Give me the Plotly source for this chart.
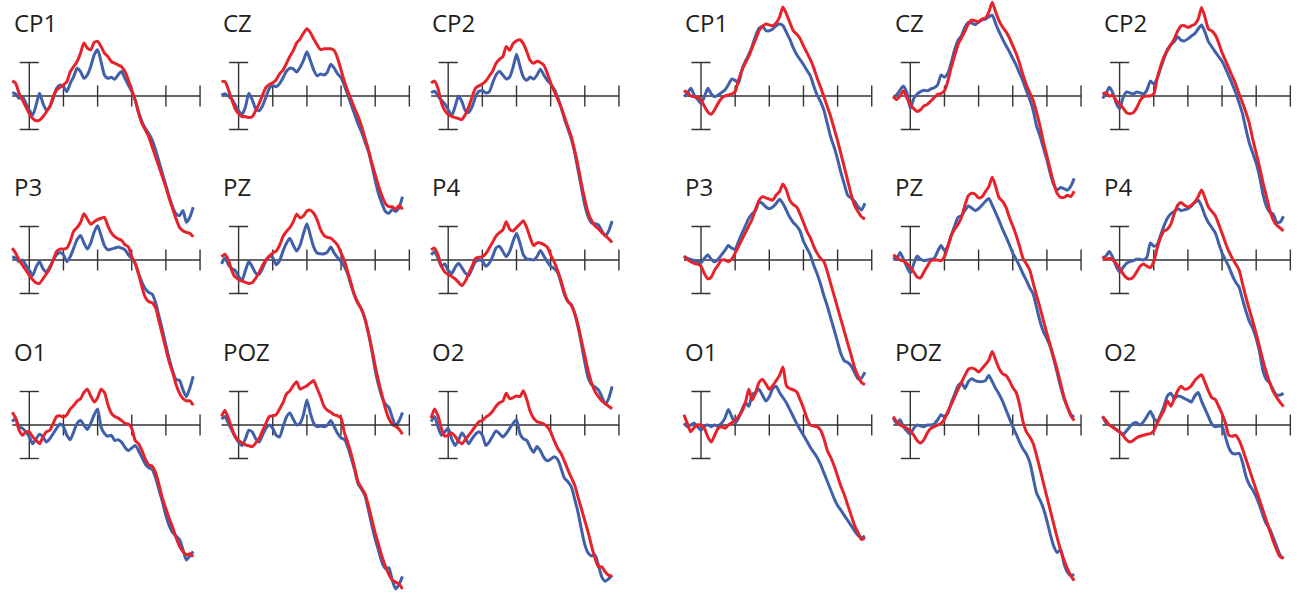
import plotly.graph_objects as go

# ---------------- data (time in ms, amplitude in microvolts) ----------------
T = [-50, -40, -30, -20, -10, 0, 10, 20, 30, 40,
     50, 60, 70, 80, 90, 100, 110, 120, 130, 140,
     150, 160, 170, 180, 190, 200, 210, 220, 230, 240,
     250, 260, 270, 280, 290, 300, 310, 320, 330, 340,
     350, 360, 370, 380, 390, 400, 410, 420, 430, 440,
     450, 460, 470, 480]

LABELS = ["CP1", "CZ", "CP2", "P3", "PZ", "P4", "O1", "POZ", "O2"]

# ----- left group -----
CP1_L_RED = [0.9, 0.76, 0.16, -0.24, -0.64, -1.04, -1.34, -1.48, -1.44, -1.24,
             -0.94, -0.64, -0.04, 0.36, 0.52, 0.66, 0.86, 1.46, 1.76, 2.06,
             2.56, 3.16, 2.86, 2.76, 3.2, 3.26, 2.96, 2.56, 2.36, 2.06,
             1.96, 1.86, 1.76, 1.46, 0.96, 0.36, -0.24, -1.04, -1.64, -2.04,
             -2.44, -3.04, -3.64, -4.24, -4.84, -5.44, -6.14, -6.74, -7.34, -7.84,
             -8.04, -8.14, -8.2, -8.4]
CP1_L_BLUE = [0.2, 0.12, -0.14, -0.04, -0.44, -0.84, -1.14, -0.54, 0.16, -0.44,
              -0.84, -0.64, -0.14, 0.46, 0.66, 0.56, 0.26, 0.76, 1.16, 1.66,
              1.46, 1.06, 1.26, 1.76, 2.46, 2.76, 2.06, 1.26, 1.06, 1.12,
              1.0, 1.26, 1.46, 1.06, 0.66, 0.26, -0.24, -0.94, -1.54, -1.94,
              -2.24, -2.64, -3.24, -3.94, -4.64, -5.34, -6.04, -6.64, -7.04, -7.14,
              -6.84, -7.54, -7.24, -6.64]
CZ_L_RED = [0.86, 0.86, 0.39, -0.23, -0.76, -1.06, -1.23, -1.23, -1.29, -1.23,
            -0.88, -0.46, 0.05, 0.51, 0.69, 0.79, 0.97, 1.32, 1.55, 1.94,
            2.36, 2.71, 3.17, 3.4, 3.75, 4.02, 3.79, 3.4, 3.05, 2.77,
            2.82, 2.82, 2.82, 2.71, 2.24, 1.55, 0.86, 0.28, -0.23, -0.76,
            -1.23, -1.8, -2.5, -3.19, -4.0, -4.69, -5.39, -5.97, -6.43, -6.61,
            -6.61, -6.77, -6.54, -6.77]
CZ_L_BLUE = [0.05, 0.14, 0.0, -0.18, -0.53, -0.88, -1.11, -0.65, 0.16, -0.23,
             -0.76, -0.88, -0.6, -0.07, 0.46, 0.62, 0.55, 0.74, 1.09, 1.48,
             1.66, 1.62, 1.43, 1.71, 2.13, 2.64, 2.13, 1.55, 1.2, 1.32,
             1.25, 1.43, 1.9, 1.66, 1.32, 1.09, 0.62, 0.05, -0.53, -1.11,
             -1.69, -2.15, -2.73, -3.31, -4.12, -5.04, -5.85, -6.43, -6.89, -7.0,
             -6.77, -6.89, -6.66, -6.01]
CP2_L_RED = [0.78, 0.89, 0.47, -0.4, -0.87, -1.11, -1.22, -1.29, -1.34, -1.41,
             -1.11, -0.64, -0.05, 0.47, 0.61, 0.71, 0.89, 1.18, 1.48, 1.95,
             2.19, 2.35, 2.96, 2.73, 3.13, 3.29, 3.36, 3.13, 2.66, 2.12,
             1.95, 2.07, 2.0, 1.84, 1.36, 0.78, 0.31, -0.16, -0.64, -1.22,
             -1.81, -2.4, -3.22, -4.16, -5.22, -6.16, -6.98, -7.45, -7.76, -7.93,
             -8.16, -8.33, -8.52, -8.75]
CP2_L_BLUE = [0.19, 0.28, 0.0, -0.24, -0.47, -0.8, -1.18, -0.64, 0.0, -0.33,
              -0.87, -0.99, -0.64, -0.05, 0.28, 0.31, 0.19, 0.24, 0.78, 1.25,
              1.48, 1.25, 1.01, 1.13, 1.72, 2.49, 1.79, 1.13, 0.94, 1.13,
              1.01, 1.25, 1.6, 1.25, 0.94, 0.71, 0.42, -0.05, -0.64, -1.34,
              -1.93, -2.52, -3.34, -4.4, -5.46, -6.52, -7.22, -7.58, -7.62, -7.69,
              -8.05, -8.35, -8.05, -7.46]
P3_L_RED = [0.71, 0.41, 0.0, -0.31, -0.61, -0.92, -1.18, -1.37, -1.39, -1.12,
            -0.82, -0.51, 0.0, 0.51, 0.65, 0.65, 0.71, 1.12, 1.73, 1.94,
            2.24, 2.76, 2.45, 2.14, 2.29, 2.41, 2.49, 2.55, 2.04, 1.63,
            1.39, 1.27, 1.18, 0.92, 0.78, 0.2, -0.2, -0.82, -1.63, -2.24,
            -2.49, -2.55, -2.86, -3.67, -4.49, -5.31, -6.12, -6.73, -7.45, -7.96,
            -8.27, -8.41, -8.41, -8.67]
P3_L_BLUE = [0.2, 0.1, -0.1, 0.0, -0.31, -0.61, -0.92, -0.41, -0.1, -0.51,
             -0.71, -0.41, 0.0, 0.31, 0.45, 0.31, -0.1, 0.2, 0.71, 1.22,
             1.47, 1.02, 0.65, 1.02, 1.67, 2.04, 1.47, 0.86, 0.61, 0.65,
             0.71, 0.78, 0.71, 0.61, 0.31, 0.1, -0.2, -0.82, -1.33, -1.73,
             -1.94, -2.04, -2.55, -3.37, -4.18, -5.1, -5.92, -6.63, -7.14, -7.18,
             -7.76, -8.16, -7.65, -6.94]
PZ_L_RED = [0.19, 0.35, 0.0, -0.63, -1.02, -1.16, -1.26, -1.33, -1.4, -1.35,
            -1.09, -0.74, -0.33, 0.0, 0.23, 0.42, 0.53, 0.88, 1.4, 1.7,
            1.93, 2.28, 2.74, 2.51, 2.63, 2.93, 2.98, 2.79, 2.4, 1.81,
            1.47, 1.35, 1.3, 1.12, 0.88, 0.42, -0.05, -0.74, -1.44, -2.14,
            -2.6, -2.95, -3.53, -4.35, -5.28, -6.33, -7.26, -8.07, -8.88, -9.47,
            -9.81, -9.93, -10.1, -10.4]
PZ_L_BLUE = [-0.23, 0.14, -0.28, -0.51, -0.63, -0.98, -1.21, -0.63, -0.09, -0.4,
             -0.79, -0.86, -0.51, -0.05, 0.23, 0.14, -0.28, -0.05, 0.53, 1.0,
             1.3, 0.88, 0.53, 0.88, 1.58, 2.16, 1.47, 0.77, 0.42, 0.37,
             0.37, 0.47, 0.77, 0.42, 0.14, -0.09, -0.4, -0.86, -1.56, -2.14,
             -2.6, -2.95, -3.53, -4.35, -5.4, -6.56, -7.49, -8.19, -8.6, -8.8,
             -9.4, -9.9, -9.6, -9.1]
P4_L_RED = [0.61, 0.71, 0.31, -0.37, -0.71, -0.86, -0.98, -1.12, -1.33, -1.53,
            -1.27, -0.82, -0.37, 0.1, 0.16, 0.2, 0.37, 0.71, 1.06, 1.43,
            1.63, 1.8, 2.29, 1.84, 1.73, 1.94, 2.14, 2.35, 1.94, 1.33,
            0.86, 1.02, 1.02, 0.92, 0.78, 0.31, -0.1, -0.61, -1.22, -1.94,
            -2.45, -2.69, -3.16, -3.88, -4.8, -5.71, -6.63, -7.35, -7.86, -8.16,
            -8.41, -8.57, -8.73, -8.88]
P4_L_BLUE = [0.31, 0.49, 0.1, -0.37, -0.24, -0.61, -0.82, -0.45, -0.2, -0.45,
             -0.78, -0.92, -0.51, -0.1, 0.0, -0.04, -0.37, -0.2, 0.2, 0.71,
             0.82, 0.51, 0.2, 0.51, 1.12, 1.59, 1.02, 0.31, 0.06, 0.04,
             0.0, 0.2, 0.57, 0.24, -0.1, -0.37, -0.51, -0.71, -1.33, -2.04,
             -2.45, -2.65, -3.16, -3.98, -5.0, -6.12, -7.04, -7.45, -7.59, -7.76,
             -8.16, -8.61, -8.27, -7.55]
O1_L_RED = [0.76, 0.41, -0.31, -0.61, -0.41, -0.41, -0.71, -0.92, -1.12, -0.71,
            -0.41, -0.31, 0.1, 0.51, 0.55, 0.47, 0.61, 0.96, 1.16, 1.43,
            1.57, 1.94, 2.14, 1.73, 1.37, 1.63, 2.14, 1.94, 1.22, 0.71,
            0.51, 0.41, 0.27, 0.1, 0.06, -0.2, -0.92, -1.12, -1.53, -2.04,
            -2.39, -2.45, -2.86, -3.57, -4.39, -5.0, -5.61, -6.12, -6.73, -7.24,
            -7.55, -7.76, -7.69, -7.86]
O1_L_BLUE = [0.2, 0.41, -0.1, -0.2, -0.41, -0.71, -1.12, -0.82, -0.55, -0.71,
             -1.02, -0.82, -0.51, -0.2, 0.06, -0.1, -0.61, -0.88, -0.41, 0.1,
             0.27, 0.0, -0.27, 0.1, 0.61, 0.96, -0.1, -0.51, -0.67, -0.61,
             -0.92, -0.88, -1.02, -1.33, -1.53, -1.37, -1.22, -1.53, -1.94, -2.35,
             -2.55, -2.65, -3.16, -3.88, -4.59, -5.41, -6.02, -6.43, -6.63, -6.84,
             -7.45, -8.06, -7.82, -7.55]
POZ_L_RED = [0.51, 0.88, 0.41, -0.2, -0.67, -0.92, -1.08, -1.18, -1.24, -1.29,
             -1.08, -0.82, -0.35, 0.1, 0.51, 0.55, 0.61, 0.96, 1.33, 1.84,
             2.04, 2.35, 2.59, 2.14, 2.24, 2.35, 2.51, 2.65, 2.18, 1.69,
             1.12, 0.88, 0.76, 0.61, 0.55, 0.41, -0.47, -1.06, -1.76, -2.58,
             -3.4, -3.76, -4.1, -4.8, -5.64, -6.45, -7.15, -7.87, -8.45, -8.92,
             -9.27, -9.38, -9.5, -9.79]
POZ_L_BLUE = [0.35, 0.51, 0.1, -0.31, -0.71, -1.02, -1.22, -0.82, -0.31, -0.41,
              -0.82, -1.02, -0.61, -0.2, 0.0, -0.2, -0.61, -0.71, -0.1, 0.47,
              0.71, 0.35, 0.0, 0.1, 0.61, 1.49, 0.71, 0.1, -0.1, -0.06,
              -0.1, 0.0, 0.27, -0.1, -0.51, -0.77, -0.87, -1.33, -1.99, -2.7,
              -3.52, -3.83, -4.22, -5.05, -5.98, -6.81, -7.51, -8.21, -8.57, -8.52,
              -9.27, -9.79, -9.51, -9.04]
O2_L_RED = [0.41, 0.96, 0.55, -0.2, -0.67, -0.61, -0.47, -0.67, -0.96, -1.12,
            -0.88, -0.61, -0.35, -0.06, 0.2, 0.27, 0.47, 0.61, 0.82, 1.12,
            1.33, 1.43, 1.9, 1.57, 1.63, 1.73, 1.69, 2.04, 1.53, 0.82,
            0.41, 0.2, 0.14, 0.06, -0.1, -0.41, -0.92, -1.37, -1.69, -2.14,
            -2.65, -3.12, -3.57, -4.29, -5.0, -5.71, -6.43, -7.24, -7.96, -8.47,
            -8.47, -8.78, -8.98, -9.04]
O2_L_BLUE = [0.2, 0.51, -0.1, -0.61, -0.41, -0.2, -0.82, -1.22, -0.92, -0.47,
             -0.76, -1.12, -0.82, -0.55, -0.41, -0.61, -1.22, -1.02, -0.67, -0.35,
             -0.51, -0.71, -0.51, -0.2, 0.1, 0.31, -0.51, -0.82, -0.92, -1.33,
             -1.63, -1.29, -1.53, -1.94, -2.14, -2.04, -1.9, -2.04, -2.55, -3.16,
             -3.37, -3.67, -4.39, -5.2, -6.22, -7.14, -7.65, -7.82, -7.76, -8.37,
             -9.08, -9.33, -9.18, -8.98]

# ----- right group -----
CP1_R_RED = [0.32, 0.2, 0.0, -0.04, -0.08, -0.24, -0.61, -0.95, -1.09, -0.81,
             -0.44, -0.14, 0.0, 0.06, 0.12, 0.26, 0.97, 1.54, 1.98, 2.38,
             2.89, 3.39, 3.9, 4.16, 4.3, 4.24, 4.2, 4.36, 4.71, 5.31,
             4.91, 4.4, 3.9, 3.7, 3.43, 2.99, 2.59, 2.18, 1.68, 1.07,
             0.53, -0.04, -0.65, -1.25, -1.96, -2.67, -3.47, -4.28, -5.09, -5.9,
             -6.55, -6.91, -7.21, -7.35]
CP1_R_BLUE = [-0.04, 0.16, 0.46, 0.06, -0.2, -0.44, -0.04, 0.46, 0.12, -0.04,
              0.06, 0.2, 0.36, 0.67, 1.01, 0.93, 0.77, 1.58, 2.08, 2.48,
              2.99, 3.6, 4.04, 4.16, 3.9, 3.9, 4.0, 4.2, 4.3, 4.2,
              3.8, 3.39, 2.89, 2.48, 2.18, 1.88, 1.54, 1.21, 0.61, 0.06,
              -0.34, -0.85, -1.66, -2.46, -3.07, -3.78, -4.59, -5.29, -5.94, -6.1,
              -6.3, -6.61, -6.81, -6.4]
CZ_R_RED = [-0.05, -0.21, 0.02, 0.31, -0.12, -0.52, -0.75, -0.92, -0.82, -0.59,
            -0.5, -0.3, -0.1, 0.1, 0.15, 0.3, 0.89, 1.72, 2.42, 3.08,
            3.48, 3.88, 4.31, 4.54, 4.49, 4.42, 4.59, 4.66, 5.01, 5.6,
            5.01, 4.49, 4.12, 3.84, 3.48, 3.01, 2.54, 1.95, 1.25, 0.66,
            0.19, -0.28, -0.99, -1.81, -2.75, -3.58, -4.4, -5.22, -5.81, -6.05,
            -6.05, -5.93, -6.0, -5.69]
CZ_R_BLUE = [-0.12, 0.07, 0.35, 0.59, 0.19, -0.75, -0.16, 0.12, 0.26, 0.35,
             0.31, 0.42, 0.49, 0.66, 1.25, 1.13, 1.36, 2.0, 2.78, 3.32,
             3.6, 4.12, 4.4, 4.35, 4.26, 4.42, 4.54, 4.59, 4.73, 4.82,
             4.31, 3.84, 3.41, 3.01, 2.66, 2.24, 1.84, 1.36, 0.89, 0.31,
             -0.21, -0.87, -1.81, -2.4, -3.11, -3.81, -4.64, -5.29, -5.62, -5.46,
             -5.53, -5.62, -5.39, -4.92]
CP2_R_RED = [0.12, 0.19, 0.0, 0.05, -0.28, -0.47, -0.71, -0.99, -1.06, -0.99,
             -0.71, -0.28, -0.05, 0.0, 0.0, 0.12, 1.06, 1.76, 2.35, 2.71,
             3.06, 3.41, 3.88, 4.19, 4.19, 4.09, 4.19, 4.28, 4.59, 5.29,
             4.71, 4.0, 3.88, 3.65, 3.18, 2.59, 2.12, 1.65, 1.18, 0.71,
             0.12, -0.4, -0.99, -1.65, -2.59, -3.41, -4.24, -5.18, -6.0, -6.82,
             -7.41, -7.72, -7.88, -8.05]
CP2_R_BLUE = [-0.14, 0.12, 0.52, 0.19, -0.42, -0.75, -0.12, 0.24, 0.19, 0.12,
              0.24, 0.19, 0.12, 0.35, 0.89, 0.71, 1.06, 1.65, 2.24, 2.78,
              3.06, 3.25, 3.53, 3.34, 3.29, 3.41, 3.58, 3.72, 4.0, 4.24,
              3.81, 3.25, 2.94, 2.64, 2.35, 2.07, 1.65, 1.18, 0.71, 0.19,
              -0.42, -1.06, -1.99, -2.82, -3.41, -4.0, -4.82, -5.88, -6.59, -6.94,
              -7.06, -7.53, -7.53, -7.18]
P3_R_RED = [0.24, 0.04, -0.1, -0.2, -0.24, -0.37, -0.82, -1.12, -1.02, -0.61,
            -0.31, 0.0, 0.0, -0.1, 0.04, 0.41, 0.82, 1.22, 1.63, 2.04,
            2.45, 3.06, 3.57, 3.78, 3.71, 3.63, 3.57, 3.88, 4.08, 4.53,
            4.18, 3.57, 3.31, 3.16, 2.76, 2.24, 1.73, 1.33, 0.82, 0.41,
            0.1, -0.1, -0.71, -1.43, -2.14, -2.86, -3.57, -4.29, -5.0, -5.71,
            -6.43, -6.94, -7.31, -7.45]
P3_R_BLUE = [0.2, 0.1, 0.04, -0.04, -0.1, -0.16, 0.1, 0.31, 0.04, -0.1,
             0.04, 0.31, 0.57, 0.86, 0.71, 0.65, 1.12, 1.59, 2.04, 2.49,
             2.76, 2.96, 3.47, 3.37, 3.16, 3.06, 3.16, 3.37, 3.63, 3.37,
             2.96, 2.55, 2.24, 2.04, 1.73, 1.12, 0.71, 0.31, -0.31, -0.82,
             -1.43, -2.14, -2.76, -3.47, -4.18, -4.9, -5.61, -6.02, -6.12, -6.33,
             -6.73, -7.1, -7.04, -6.69]
PZ_R_RED = [0.31, 0.16, 0.0, -0.06, -0.2, -0.45, -0.71, -1.02, -1.06, -0.71,
            -0.37, -0.04, 0.0, 0.0, -0.04, 0.2, 0.82, 1.47, 1.84, 2.14,
            2.55, 3.27, 3.84, 3.98, 3.92, 3.71, 3.78, 4.08, 4.39, 4.94,
            4.39, 3.71, 3.51, 3.16, 2.55, 2.04, 1.47, 0.82, 0.1, -0.24,
            -0.61, -1.39, -2.14, -2.86, -3.63, -4.39, -5.1, -5.82, -6.53, -7.35,
            -8.16, -8.78, -9.29, -9.59]
PZ_R_BLUE = [0.16, 0.04, 0.45, 0.04, -0.41, -0.78, -0.24, 0.24, 0.04, -0.04,
             0.0, 0.04, 0.1, 0.51, 0.86, 0.57, 0.82, 1.47, 2.04, 2.55,
             2.65, 2.96, 3.22, 3.1, 2.96, 3.06, 3.27, 3.51, 3.67, 3.27,
             2.82, 2.35, 1.84, 1.39, 0.92, 0.41, 0.04, -0.37, -0.82, -1.22,
             -1.67, -2.04, -2.86, -3.67, -4.29, -4.69, -5.2, -5.92, -6.73, -7.55,
             -8.27, -8.78, -9.22, -9.39]
P4_R_RED = [0.2, 0.04, 0.1, 0.0, -0.2, -0.51, -0.82, -1.06, -1.14, -1.02,
            -0.71, -0.37, -0.24, -0.37, -0.45, -0.1, 0.71, 1.33, 1.73, 1.84,
            2.14, 2.76, 3.27, 3.43, 3.27, 3.16, 3.27, 3.47, 3.78, 4.18,
            3.71, 3.16, 2.9, 2.65, 2.14, 1.59, 1.02, 0.51, 0.1, -0.24,
            -0.61, -1.43, -2.24, -2.96, -3.67, -4.39, -5.2, -6.02, -6.73, -7.35,
            -7.86, -8.2, -8.5, -8.75]
P4_R_BLUE = [0.1, 0.24, 0.51, 0.16, -0.37, -0.71, -0.45, -0.2, -0.1, -0.04,
             0.04, 0.04, 0.0, 0.16, 1.02, 0.82, 0.92, 1.47, 2.04, 2.49,
             2.76, 2.9, 3.06, 2.96, 3.0, 3.06, 3.22, 3.43, 3.57, 3.22,
             2.65, 2.24, 1.94, 1.63, 1.02, 0.41, 0.0, -0.41, -0.92, -1.33,
             -1.63, -2.35, -3.06, -3.67, -4.08, -4.69, -5.51, -6.63, -7.14, -7.35,
             -7.76, -8.06, -8.06, -7.96]
O1_R_RED = [0.61, 0.1, -0.41, -0.14, 0.0, 0.0, -0.2, -0.71, -1.02, -0.61,
            -0.2, -0.1, -0.2, 0.0, 0.14, 0.27, 0.51, 0.82, 1.33, 2.14,
            1.49, 1.94, 2.55, 2.71, 2.45, 2.14, 2.35, 2.65, 2.96, 3.47,
            2.35, 2.18, 2.1, 1.98, 1.53, 1.02, 0.41, 0.0, -0.06, -0.1,
            -0.31, -0.82, -1.53, -1.94, -2.45, -3.06, -3.67, -4.18, -4.8, -5.41,
            -6.02, -6.43, -6.84, -6.73]
O1_R_BLUE = [0.1, -0.1, 0.0, 0.1, -0.1, -0.31, -0.06, 0.0, -0.1, 0.0,
             -0.06, 0.1, 0.41, 0.92, 0.51, 0.1, 0.41, 0.92, 1.33, 1.12,
             1.84, 1.94, 2.14, 1.78, 1.43, 1.69, 2.18, 2.31, 1.94, 1.63,
             1.33, 0.92, 0.51, 0.1, -0.27, -0.61, -0.96, -1.33, -1.63, -1.94,
             -2.35, -2.86, -3.37, -3.88, -4.39, -4.8, -5.1, -5.41, -5.71, -6.02,
             -6.33, -6.59, -6.73, -6.63]
POZ_R_RED = [0.51, 0.2, 0.0, -0.1, -0.2, -0.35, -0.61, -0.92, -1.08, -0.88,
             -0.47, -0.2, -0.1, 0.0, 0.1, 0.35, 0.82, 1.22, 1.69, 2.14,
             2.55, 2.96, 3.33, 3.41, 3.33, 3.16, 3.37, 3.61, 3.88, 4.39,
             3.88, 3.37, 3.06, 2.96, 2.65, 2.24, 1.94, 1.22, 0.2, -0.41,
             -0.71, -1.12, -1.84, -2.65, -3.47, -4.29, -5.1, -5.92, -6.73, -7.45,
             -8.06, -8.57, -8.98, -9.29]
POZ_R_BLUE = [0.41, 0.1, 0.31, -0.1, -0.35, -0.55, -0.2, 0.0, -0.06, -0.1,
              0.0, 0.0, 0.06, 0.31, 0.61, 0.47, 0.71, 1.33, 1.84, 2.35,
              2.51, 2.18, 2.59, 2.76, 2.65, 2.59, 2.59, 2.65, 2.96, 2.59,
              2.18, 1.84, 1.43, 0.92, 0.41, -0.1, -0.55, -1.02, -1.43, -1.73,
              -2.24, -3.16, -4.08, -4.49, -5.0, -5.71, -6.53, -7.24, -7.61, -7.45,
              -8.27, -8.78, -8.98, -8.92]
O2_R_RED = [0.51, 0.27, 0.0, -0.14, -0.27, -0.41, -0.61, -0.88, -1.02, -0.92,
            -0.76, -0.67, -0.61, -0.55, -0.51, -0.35, 0.1, 0.51, 0.88, 1.43,
            1.12, 1.57, 2.04, 2.31, 2.14, 2.18, 2.35, 2.65, 2.86, 3.0,
            2.55, 2.04, 1.63, 1.53, 1.12, 0.67, 0.1, -0.61, -0.67, -0.61,
            -0.92, -1.43, -2.04, -2.65, -3.27, -3.88, -4.49, -5.1, -5.71, -6.33,
            -6.94, -7.45, -7.86, -7.96]
O2_R_BLUE = [0.51, 0.14, 0.0, -0.1, -0.27, -0.41, -0.55, -0.35, -0.1, 0.1,
             0.14, 0.0, 0.2, 0.51, 0.82, 0.41, 0.2, 0.61, 1.12, 1.73,
             1.9, 1.57, 1.73, 1.69, 1.57, 1.49, 1.37, 1.73, 1.94, 1.43,
             0.96, 0.51, 0.06, -0.1, -0.06, -0.1, -0.71, -1.37, -1.69, -1.73,
             -1.69, -2.24, -3.06, -3.57, -3.88, -4.29, -4.8, -5.41, -5.92, -6.22,
             -6.73, -7.24, -7.76, -7.96]

LEFT_BLUE = [CP1_L_BLUE, CZ_L_BLUE, CP2_L_BLUE, P3_L_BLUE, PZ_L_BLUE, P4_L_BLUE,
             O1_L_BLUE, POZ_L_BLUE, O2_L_BLUE]
LEFT_RED = [CP1_L_RED, CZ_L_RED, CP2_L_RED, P3_L_RED, PZ_L_RED, P4_L_RED,
            O1_L_RED, POZ_L_RED, O2_L_RED]
RIGHT_BLUE = [CP1_R_BLUE, CZ_R_BLUE, CP2_R_BLUE, P3_R_BLUE, PZ_R_BLUE, P4_R_BLUE,
              O1_R_BLUE, POZ_R_BLUE, O2_R_BLUE]
RIGHT_RED = [CP1_R_RED, CZ_R_RED, CP2_R_RED, P3_R_RED, PZ_R_RED, P4_R_RED,
             O1_R_RED, POZ_R_RED, O2_R_RED]

# axis decoration values (ms / microvolts)
TICKS_MS = [100, 200, 300, 400, 500]
AXIS_START_MS = -50
SCALE_UV = 2.0

# ---------------- layout / style ----------------
W, H = 1304, 602
RED = "#E6232B"
BLUE = "#4060AA"
AXC = "#333333"
TXT = "#231f20"

PX_PER_MS = 0.3415
PX_PER_UV = 16.75
COL_X0 = [[29.3, 238.6, 448.2], [701.0, 910.3, 1119.6]]
ROW_Y0 = [96.0, 260.0, 425.0]
X_RANGE = (-80.0, 535.0)
TICK_HALF = 0.63
CAP_HALF = 28.0

fig = go.Figure()
shapes, annotations = [], []
layout_axes = {}

n = 0
for g, (blues, reds) in enumerate([(LEFT_BLUE, LEFT_RED), (RIGHT_BLUE, RIGHT_RED)]):
    for k in range(9):
        n += 1
        r, c = divmod(k, 3)
        x0 = COL_X0[g][c]
        y0 = ROW_Y0[r]
        xs = "" if n == 1 else str(n)
        xref, yref = "x" + xs, "y" + xs

        vmax = y0 / PX_PER_UV
        vmin = -min(11.0, (H - y0) / PX_PER_UV)
        left_px = x0 + X_RANGE[0] * PX_PER_MS
        right_px = x0 + X_RANGE[1] * PX_PER_MS
        top_px = y0 - vmax * PX_PER_UV
        bot_px = y0 - vmin * PX_PER_UV
        layout_axes["xaxis" + xs] = dict(domain=[left_px / W, min(right_px / W, 1.0)],
                                         range=list(X_RANGE), visible=False,
                                         fixedrange=True, anchor=yref)
        layout_axes["yaxis" + xs] = dict(domain=[max(1 - bot_px / H, 0.0), min(1 - top_px / H, 1.0)],
                                         range=[vmin, vmax], visible=False,
                                         fixedrange=True, anchor=xref)

        # axis cross
        def seg(xa, ya, xb, yb):
            shapes.append(dict(type="line", xref=xref, yref=yref, x0=xa, y0=ya,
                               x1=xb, y1=yb, layer="below",
                               line=dict(color=AXC, width=1.4)))
        seg(AXIS_START_MS, 0, TICKS_MS[-1], 0)
        seg(0, -SCALE_UV, 0, SCALE_UV)
        seg(-CAP_HALF, SCALE_UV, CAP_HALF, SCALE_UV)
        seg(-CAP_HALF, -SCALE_UV, CAP_HALF, -SCALE_UV)
        for tk in TICKS_MS:
            seg(tk, -TICK_HALF, tk, TICK_HALF)

        fig.add_trace(go.Scatter(x=T, y=blues[k], xaxis=xref, yaxis=yref, mode="lines",
                                 line=dict(color=BLUE, width=3, shape="spline", smoothing=0.6),
                                 hoverinfo="skip", showlegend=False))
        fig.add_trace(go.Scatter(x=T, y=reds[k], xaxis=xref, yaxis=yref, mode="lines",
                                 line=dict(color=RED, width=3, shape="spline", smoothing=0.6),
                                 hoverinfo="skip", showlegend=False))

        annotations.append(dict(text=LABELS[k], xref=xref, yref=yref, x=-52, y=4.4,
                                xanchor="left", yanchor="middle", showarrow=False,
                                font=dict(family="Open Sans, Noto Sans, sans-serif",
                                          size=24, color=TXT)))

fig.update_layout(width=W, height=H, autosize=False,
                  margin=dict(l=0, r=0, t=0, b=0, pad=0),
                  paper_bgcolor="white", plot_bgcolor="rgba(0,0,0,0)",
                  shapes=shapes, annotations=annotations, showlegend=False,
                  **layout_axes)

fig.write_html("out.html", config={"displayModeBar": False, "staticPlot": True},
               post_script="document.body.style.margin='0px';document.body.style.overflow='hidden';")
